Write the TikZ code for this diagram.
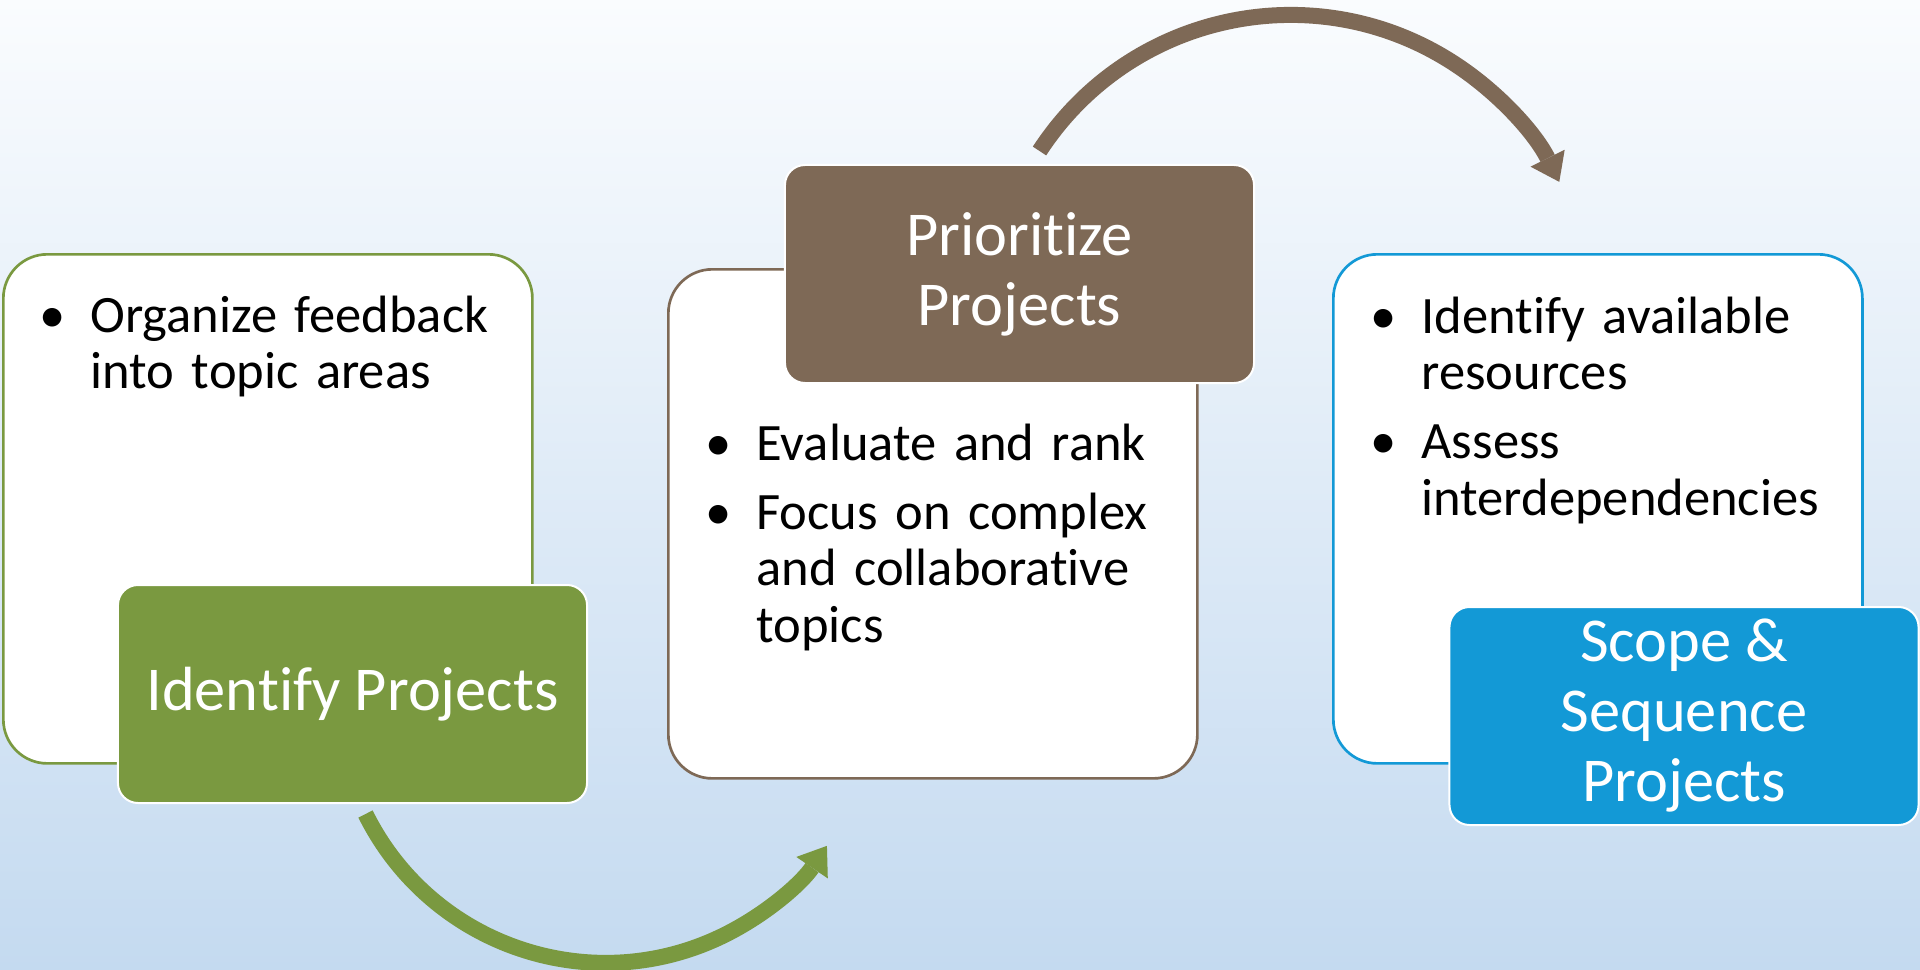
\documentclass[tikz,border=0pt]{standalone}
\usepackage{fontspec}
\setmainfont[Ligatures={NoCommon,NoContextual}, Contextuals=NoAlternate]{Carlito}
\usepackage{tikz}
\definecolor{id_green}{RGB}{122,153,64}
\definecolor{pr_brown}{RGB}{126,105,86}
\definecolor{sc_blue}{RGB}{19,153,214}
\definecolor{sky_top}{RGB}{250,252,254}
\definecolor{sky_bottom}{RGB}{196,218,240}
\newcommand{\pitem}{\leavevmode\llap{\makebox[28.5pt]{\textbullet}}}
\tikzset{
  bullets_font/.style = {font=\fontsize{19.7}{21.25}\selectfont},
  header_font/.style = {font=\fontsize{23.4}{26.25}\selectfont},
  panel_size/.style = {minimum width=198.4pt, minimum height=190.9pt},
  header_size/.style = {minimum width=175.9pt, minimum height=81.75pt}
}
\tikzset{
  panel/.style = {panel_size, draw, line width=1pt, fill=white, rounded corners=16.5pt, anchor=north west, inner sep=0},
  header/.style = {header_size, header_font, draw=white, line width=0.75pt, text=white, rounded corners=7.5pt, align=center, inner sep=0},
  bullets/.style = {bullets_font, align=left, text width=165pt, anchor=base west, inner sep=0},
  round_arrow/.style = {line width=6pt, -{Triangle[length=9.9pt, width=14.3pt, line width=0pt]}}
}
\usetikzlibrary{arrows.meta, positioning}

\begin{document}
\begin{tikzpicture}[x=0.375pt, y=0.375pt]
        \useasboundingbox (0,0) rectangle (1920,-970);
        \shade[top color=sky_top, bottom color=sky_bottom] (0,0) rectangle (1920,-970);

        % Panels
        \node[panel, draw=id_green] at (2,-253) (id) {};
        \node[panel, draw=pr_brown] at (667,-268) (pr) {};
        \node[panel, draw=sc_blue] at (1332,-253) (sc) {};

        % Bullet lists
        \node[bullets] at ([shift={(88,-79)}]id.north west) (id_list) {
            \pitem Organize feedback\\
            into topic areas
            };
        \node[bullets] at ([shift={(89,-192)}]pr.north west) (pr_list) {
            \pitem Evaluate and rank\\[4.7pt]
            \pitem Focus on complex\\
            and collaborative\\
            topics
            };
        \node[bullets] at ([shift={(89,-80)}]sc.north west) (sc_list) {
            \pitem Identify available\\
            resources\\[4.7pt]
            \pitem Assess\\
            interdependencies
            };

        % Headers
        \node[header, fill=id_green] at ([shift={(350.5,-441)}]id.north west) (id_head) {
            Identify Projects};
        \node[header, fill=pr_brown] at ([shift={(352.5,-6)}]pr.north west) (pr_head) {
            Prioritize\\ Projects};
        \node[header, fill=sc_blue] at ([shift={(352,-463)}]sc.north west) (sc_head) {
            Scope \&\\ Sequence\\ Projects};

        % Arrows
        \coordinate (id_out) at ([shift={(13,-10)}]id_head.south);
        \coordinate (pr_out) at ([shift={(20,13)}]pr_head.north);
        \draw[round_arrow, id_green] (id_out) arc[start angle=206.4, end angle=325.7, radius=100.5pt];
        \draw[round_arrow, pr_brown] (pr_out) arc[start angle=146.9, end angle=26.3, radius=112.4pt];
    \end{tikzpicture}
\end{document}
